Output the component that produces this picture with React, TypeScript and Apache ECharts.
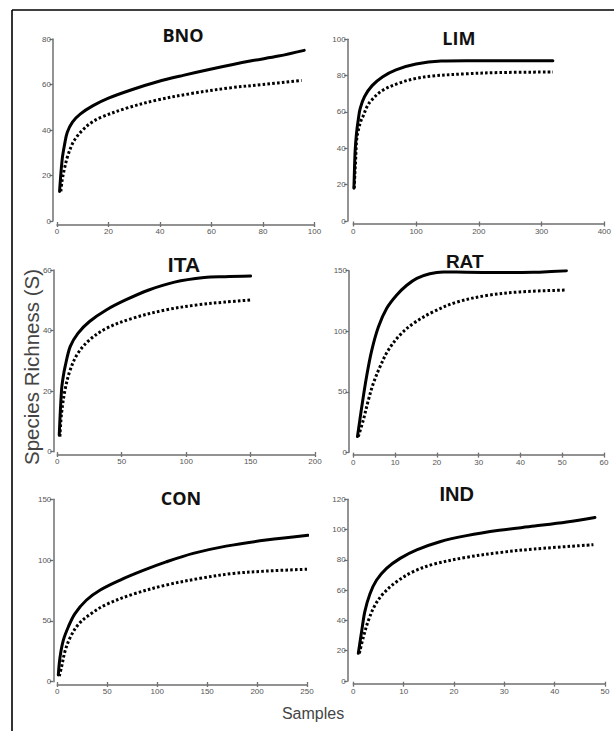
import React, { useEffect, useRef } from "react";
import * as echarts from "echarts";

// ---- data ----
const panelNames = ["BNO", "LIM", "ITA", "RAT", "CON", "IND"];

const bnoSolid = [[1, 13], [2, 27], [3, 34], [4, 39], [6, 43.5], [9, 47], [14, 50.7], [20, 54], [29, 57.7], [39, 61.2], [49, 64], [60, 66.8], [75, 70.3], [86, 72.5], [96, 75]];
const bnoDotted = [[1.5, 13], [2, 18], [3, 23.5], [4, 28], [6, 34], [8, 37.5], [10, 40], [13, 43], [17, 45.5], [27, 49.6], [39, 53.2], [52, 56], [67, 58.5], [80, 60], [95, 61.8]];

const limSolid = [[1, 18], [2, 30], [3, 39], [5, 48], [8, 56], [11, 62], [18, 68.5], [30, 74.5], [47, 79.4], [68, 83.2], [100, 86.4], [140, 88], [180, 88.2], [250, 88.2], [318, 88.2]];
const limDotted = [[1.5, 18], [2.5, 26], [3.7, 33.6], [5.3, 44.6], [8, 50], [12, 55], [16, 58], [22, 63], [29, 66.5], [47, 72], [74, 76], [100, 78.5], [126, 79.8], [179, 81], [232, 81.7], [318, 82]];

const itaSolid = [[1.5, 5.5], [3.3, 20.4], [4.5, 24.5], [6, 28], [10, 34.7], [16, 39.1], [25, 43], [38, 46.8], [53, 50.1], [71, 53.4], [91, 56], [114, 57.5], [130, 57.8], [150, 58]];
const itaDotted = [[2, 5], [3.3, 12.7], [6, 20.4], [10, 27], [16, 32.5], [25, 36.9], [38, 40.7], [58, 44], [84, 46.8], [109, 48.5], [130, 49.4], [150, 50.1]];

const ratSolid = [[1, 13], [2, 37], [3.2, 63], [4.4, 84], [6, 103.5], [8, 119], [10.4, 130], [12.8, 138], [15.2, 143.7], [18.3, 147.5], [21.5, 149], [27, 148.7], [35, 148.5], [43, 148.7], [51, 150]];
const ratDotted = [[1.2, 13], [2.4, 26.7], [3.6, 43], [4.8, 57], [6.4, 70.7], [8.4, 84.5], [11.2, 97], [14.4, 106.5], [19.1, 116], [24.7, 124], [31.9, 129.5], [39.9, 132.5], [51, 134]];

const conSolid = [[1, 5.5], [2.7, 20], [6, 34], [11, 45], [17.7, 56], [29, 67], [43, 75.4], [63, 83.6], [86, 91.5], [109, 98.5], [136, 105.5], [169, 111.5], [209, 116.5], [251, 120.5]];
const conDotted = [[2, 4.5], [4.3, 12.3], [7.7, 25], [12.7, 36], [21, 47], [33, 55.5], [49, 63.5], [76, 72], [109, 79.5], [143, 85], [176, 89], [210, 91], [250, 92.5]];

const indSolid = [[1, 18.3], [1.7, 33.7], [2.3, 46], [3.3, 57.5], [4.6, 66.5], [6.6, 74.4], [9.3, 81], [12.6, 86.6], [17.2, 92], [22.5, 96], [29, 99.5], [36, 102.3], [42.4, 105], [48, 108]];
const indDotted = [[1.2, 18.3], [2, 29], [3, 40], [4.3, 50], [6, 57.9], [8.6, 65.6], [11.9, 72.2], [15.9, 77.1], [22.5, 81.7], [29, 84.8], [36, 87.2], [47.7, 90]];

const solidSeries = [bnoSolid, limSolid, itaSolid, ratSolid, conSolid, indSolid];
const dottedSeries = [bnoDotted, limDotted, itaDotted, ratDotted, conDotted, indDotted];

// axis ranges: [min, max, interval]
const xRanges = [[0, 100, 20], [0, 400, 100], [0, 200, 50], [0, 60, 10], [0, 250, 50], [0, 50, 10]];
const yRanges = [[0, 80, 20], [0, 100, 20], [0, 60, 20], [0, 150, 50], [0, 150, 50], [0, 120, 20]];

const yAxisTitle = "Species Richness (S)";
const xAxisTitle = "Samples";

// ---- layout ----
const grids = [
  { left: 57, top: 39, width: 257.5, height: 182, yOff: 4, xOff: 3.5 },
  { left: 353.3, top: 39.3, width: 251.7, height: 181.7, yOff: 5.6, xOff: 3 },
  { left: 57.3, top: 270, width: 257.7, height: 181.7, yOff: 3.5, xOff: 2.8 },
  { left: 353.3, top: 270.7, width: 250.7, height: 181.6, yOff: 4.3, xOff: 2.8 },
  { left: 57.3, top: 499.3, width: 249.7, height: 182.4, yOff: 4, xOff: 2.8 },
  { left: 353.3, top: 499.3, width: 251.7, height: 181.7, yOff: 5.6, xOff: 3.2 },
];
const titlePos = [
  { x: 183, y: 34, font: "'Open Sans', sans-serif", size: 18 },
  { x: 458.8, y: 37, font: "'Open Sans', sans-serif", size: 18 },
  { x: 184, y: 263, font: "'Liberation Sans', Arial, sans-serif", size: 21 },
  { x: 464.7, y: 260.5, font: "'Liberation Sans', Arial, sans-serif", size: 19 },
  { x: 181, y: 496.7, font: "'Open Sans', sans-serif", size: 18 },
  { x: 456.7, y: 493, font: "'Liberation Sans', Arial, sans-serif", size: 20 },
];

const AXIS_COLOR = "#6f6f6f";
const LABEL_COLOR = "#555";
const FONT = "'Liberation Sans', Arial, sans-serif";

export default function App() {
  const ref = useRef<HTMLDivElement>(null);
  useEffect(() => {
    if (!ref.current) return;
    const chart = echarts.init(ref.current, null, { renderer: "svg" });

    const gridOpt: any[] = [];
    const xAxes: any[] = [];
    const yAxes: any[] = [];
    const series: any[] = [];
    const graphic: any[] = [];

    grids.forEach((g, i) => {
      gridOpt.push({ left: g.left, top: g.top, width: g.width, height: g.height, containLabel: false });
      const [xmin, xmax, xint] = xRanges[i];
      const [ymin, ymax, yint] = yRanges[i];
      xAxes.push({
        type: "value", gridIndex: i, min: xmin, max: xmax, interval: xint, offset: g.xOff,
        splitLine: { show: false },
        axisLine: { show: true, onZero: false, lineStyle: { color: AXIS_COLOR, width: 1.5 } },
        axisTick: { show: true, length: 2.5, lineStyle: { color: AXIS_COLOR, width: 1.3 } },
        axisLabel: { color: LABEL_COLOR, fontSize: 8, fontFamily: FONT, margin: 3 },
      });
      yAxes.push({
        type: "value", gridIndex: i, min: ymin, max: ymax, interval: yint, offset: g.yOff,
        splitLine: { show: false },
        axisLine: { show: true, onZero: false, lineStyle: { color: AXIS_COLOR, width: 1.5 } },
        axisTick: { show: true, length: 3.5, lineStyle: { color: AXIS_COLOR, width: 1.3 } },
        axisLabel: { color: LABEL_COLOR, fontSize: 8, fontFamily: FONT, margin: 2 },
      });
    });
    grids.forEach((g, i) => {
      const [xmin, xmax, xint] = xRanges[i];
      xAxes.push({
        type: "value", gridIndex: i, min: xmin, max: xmax, interval: xint, offset: g.xOff,
        position: "bottom",
        splitLine: { show: false },
        axisLine: { show: false, onZero: false },
        axisTick: { show: true, inside: true, length: 2.5, lineStyle: { color: AXIS_COLOR, width: 1.3 } },
        axisLabel: { show: false },
      });
    });

    solidSeries.forEach((d, i) => {
      series.push({
        type: "line", xAxisIndex: i, yAxisIndex: i, data: d, showSymbol: false, symbol: "none",
        smooth: 0.35, lineStyle: { color: "#000", width: 3, cap: "round", join: "round" }, silent: true,
      });
      series.push({
        type: "line", xAxisIndex: i, yAxisIndex: i, data: dottedSeries[i], showSymbol: false, symbol: "none",
        smooth: 0.35, lineStyle: { color: "#000", width: 3, type: [2.6, 2.2], cap: "butt" }, silent: true,
      });
    });

    panelNames.forEach((name, i) => {
      const t = titlePos[i];
      graphic.push({
        type: "text", x: t.x, y: t.y + 1,
        style: { text: name, fill: "#111", font: `bold ${t.size}px ${t.font}`, align: "center", verticalAlign: "middle" },
      });
    });

    graphic.push({
      type: "text", x: 31.5, y: 367, rotation: Math.PI / 2,
      style: { text: yAxisTitle, fill: "#444", font: `20.5px ${FONT}`, align: "center", verticalAlign: "middle" },
    });
    graphic.push({
      type: "text", x: 313, y: 713,
      style: { text: xAxisTitle, fill: "#444", font: `16px ${FONT}`, align: "center", verticalAlign: "middle" },
    });
    graphic.push({ type: "line", shape: { x1: 12, y1: 10, x2: 614, y2: 10 }, style: { stroke: "#000", lineWidth: 1.6 } });
    graphic.push({ type: "line", shape: { x1: 12, y1: 10, x2: 12, y2: 731 }, style: { stroke: "#000", lineWidth: 1.6 } });

    chart.setOption({
      animation: false,
      backgroundColor: "#fff",
      grid: gridOpt,
      xAxis: xAxes,
      yAxis: yAxes,
      series,
      graphic,
    });
    return () => chart.dispose();
  }, []);
  return (
    <div style={{ position: "absolute", left: 0, top: 0, width: 614, height: 731, overflow: "hidden", background: "#fff" }}>
      <div ref={ref} style={{ width: 614, height: 731 }} />
    </div>
  );
}
